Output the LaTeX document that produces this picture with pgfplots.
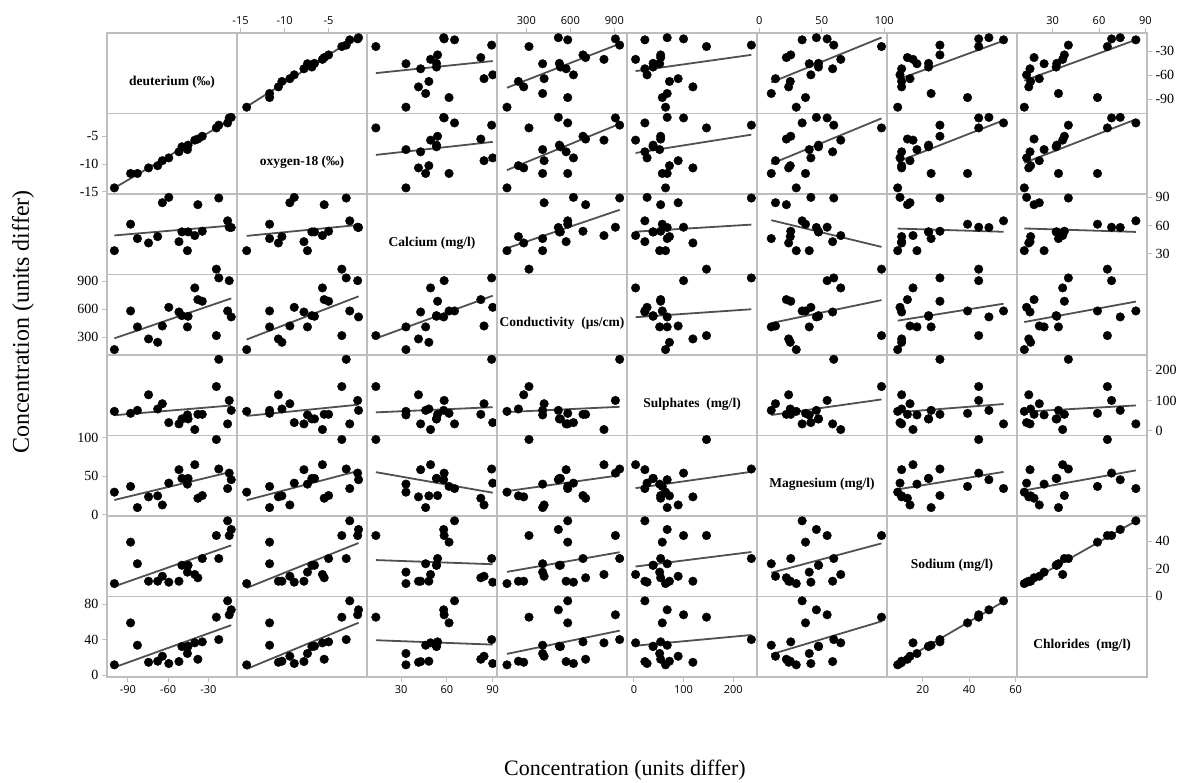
\documentclass[border=0pt]{standalone}
\usepackage{fontspec}
\setmainfont{Liberation Serif}
\newfontfamily\ticksans{Open Sans}
\usepackage{pgfplots}
\usepackage{pgfplotstable}
\pgfplotsset{compat=1.18}

\definecolor{framegray}{RGB}{190,190,190}
\definecolor{fitgray}{RGB}{80,80,80}

% v1 deuterium, v2 oxygen-18, v3 calcium, v4 conductivity,
% v5 sulphates, v6 magnesium, v7 sodium, v8 chlorides
\pgfplotstableread{
v1     v2     v3    v4   v5     v6    v7    v8
-100.1 -14.3  33.2  168  63.7   29.6  9.2   11.7
-88.0  -11.7  61.4  582  57.1   37.0  39.3  59.0
-82.9  -11.7  46.1  411  67.0   9.6   23.6  33.8
-74.6  -10.7  41.4  282  118.8  23.5  10.9  14.6
-67.8  -10.3  48.2  246  71.6   24.8  10.9  15.8
-64.3  -9.4   84.3  421  89.1   13.0  14.5  21.4
-59.5  -8.9   90.0  621  26.4   41.3  10.2  13.2
-51.9  -7.8   42.8  571  22.0   58.7  10.9  15.4
-49.7  -6.9   53.2  532  38.6   47.4  22.5  32.3
-45.1  -6.6   53.2  525  38.6   47.4  22.5  32.7
-45.6  -7.4   33.2  411  51.8   40.0  17.5  24.5
-40.1  -5.7   49.3  829  3.3    65.2  15.8  36.5
-37.8  -5.5   82.2  704  53.8   21.7  13.4  18.0
-34.5  -5.0   53.9  686  53.8   25.2  27.4  37.6
-24.0  -3.5   13.5  318  146.2  97.8  44.1  65.4
-22.2  -3.0   89.3  936  236.6  59.6  27.4  40.2
-15.6  -2.6   65.0  582  22.0   34.3  54.8  83.8
-14.4  -1.7   58.2  907  100.0  54.3  44.1  68.1
-12.9  -1.6   57.9  518  67.0   45.7  48.5  73.7
}\waterdata

\pgfplotsset{
  cell/.style={scale only axis, width=130pt, height=80.5pt, anchor=north west,
    axis line style={framegray, line width=1.3pt},
    xtick=\empty, ytick=\empty, tick align=outside, major tick length=5pt,
    tick style={framegray, line width=1pt},
    clip=false,
    xticklabel style={font=\ticksans\fontsize{11}{12}\selectfont},
    yticklabel style={font=\fontsize{14}{15}\selectfont}},
  % column (x) ranges
  xr1/.style={xmin=-105.6, xmax=-8.6},
  xr2/.style={xmin=-15.4, xmax=-0.64},
  xr3/.style={xmin=7.7, xmax=92.8},
  xr4/.style={xmin=100, xmax=986},
  xr5/.style={xmin=-14, xmax=248},
  xr6/.style={xmin=-1.8, xmax=102.2},
  xr7/.style={xmin=4.6, xmax=60.6},
  xr8/.style={xmin=7, xmax=91},
  % row (y) ranges
  yr1/.style={ymin=-108, ymax=-7},
  yr2/.style={ymin=-15.4, ymax=-0.9},
  yr3/.style={ymin=7.8, ymax=93.6},
  yr4/.style={ymin=110, ymax=973},
  yr5/.style={ymin=-16.5, ymax=251},
  yr6/.style={ymin=-1.3, ymax=103},
  yr7/.style={ymin=-0.2, ymax=58.3},
  yr8/.style={ymin=-2, ymax=88.7},
  % outer tick marks
  xt1/.style={xtick={-90,-60,-30}, xticklabels={-90,-60,-30}},
  xt2/.style={xtick={-15,-10,-5}, xticklabels={-15,-10,-5}},
  xt3/.style={xtick={30,60,90}, xticklabels={30,60,90}},
  xt4/.style={xtick={300,600,900}, xticklabels={300,600,900}},
  xt5/.style={xtick={0,100,200}, xticklabels={0,100,200}},
  xt6/.style={xtick={0,50,100}, xticklabels={0,50,100}},
  xt7/.style={xtick={20,40,60}, xticklabels={20,40,60}},
  xt8/.style={xtick={30,60,90}, xticklabels={30,60,90}},
  yt1/.style={ytick={-90,-60,-30}, yticklabels={-90,-60,-30}},
  yt2/.style={ytick={-15,-10,-5}, yticklabels={-15,-10,-5}},
  yt3/.style={ytick={30,60,90}, yticklabels={30,60,90}},
  yt4/.style={ytick={300,600,900}, yticklabels={300,600,900}},
  yt5/.style={ytick={0,100,200}, yticklabels={0,100,200}},
  yt6/.style={ytick={0,50,100}, yticklabels={0,50,100}},
  yt7/.style={ytick={0,20,40}, yticklabels={0,20,40}},
  yt8/.style={ytick={0,40,80}, yticklabels={0,40,80}},
  cellticks/.code 2 args={%
    \ifnum#1=8 \ifodd#2 \pgfplotsset{xt#2, xtick pos=left, xticklabel pos=left}\fi\fi
    \ifnum#1=1 \ifodd#2 \else\pgfplotsset{xt#2, xtick pos=right, xticklabel pos=right}\fi\fi
    \ifnum#2=1 \ifodd#1 \else\pgfplotsset{yt#1, ytick pos=left, yticklabel pos=left}\fi\fi
    \ifnum#2=8 \ifodd#1 \pgfplotsset{yt#1, ytick pos=right, yticklabel pos=right}\fi\fi
  },
}

\newcommand\diaglabel[1]{\ifcase#1\or deuterium (‰)\or oxygen-18 (‰)\or
  Calcium (mg/l)\or Conductivity\ \ (µs/cm)\or Sulphates\ \ (mg/l)\or
  Magnesium (mg/l)\or Sodium (mg/l)\or Chlorides\ \ (mg/l)\fi}

% one cell of the matrix: row #1 (y variable), column #2 (x variable)
\newcommand\cell[2]{%
  \begin{axis}[cell, xr#2, yr#1, cellticks={#1}{#2},
      at={({107pt+(#2-1)*130pt},{749pt-(#1-1)*80.5pt})}]
    \ifnum#1=#2
      \node[font=\bfseries\fontsize{13.5}{15}\selectfont, yshift=-9pt]
        at (rel axis cs:0.5,0.5) {\diaglabel{#1}};
    \else
      \addplot[only marks, mark=*, mark size=4.3pt, black] table[x=v#2, y=v#1] {\waterdata};
      \addplot[no marks, fitgray, line width=1.8pt]
        table[x=v#2, y={create col/linear regression={x=v#2, y=v#1}}] {\waterdata};
    \fi
  \end{axis}}
\newcommand\cellrow[1]{\cell{#1}{1}\cell{#1}{2}\cell{#1}{3}\cell{#1}{4}%
  \cell{#1}{5}\cell{#1}{6}\cell{#1}{7}\cell{#1}{8}}

\begin{document}
\begin{tikzpicture}
  \cellrow{1}\cellrow{2}\cellrow{3}\cellrow{4}
  \cellrow{5}\cellrow{6}\cellrow{7}\cellrow{8}
  \node[rotate=90, font=\fontsize{24}{26}\selectfont] at (23pt,460pt) {Concentration (units differ)};
  \node[font=\fontsize{22}{24}\selectfont] at (625pt,12pt) {Concentration (units differ)};
  \pgfresetboundingbox
  \path[use as bounding box] (0pt,0pt) rectangle (1188pt,782pt);
\end{tikzpicture}
\end{document}
